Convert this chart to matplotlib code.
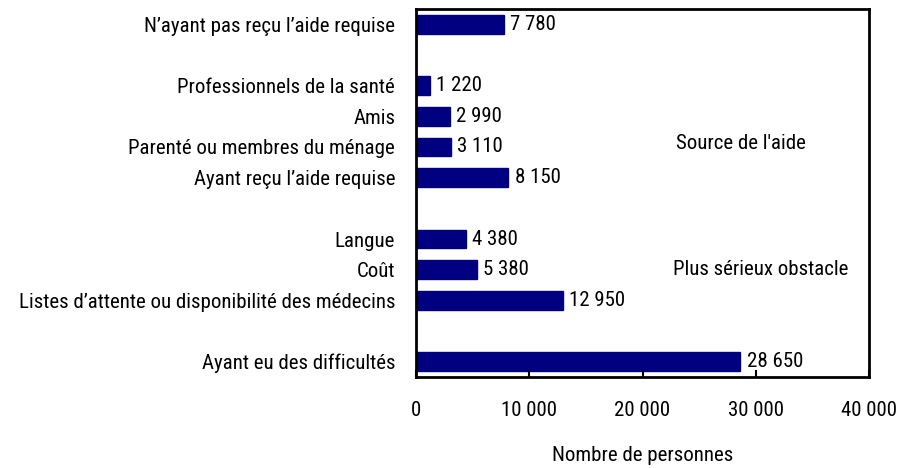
import matplotlib
matplotlib.use("Agg")
import matplotlib.pyplot as plt
from matplotlib import font_manager

categories = [
    "N\u2019ayant pas reçu l\u2019aide requise",
    "",
    "Professionnels de la santé",
    "Amis",
    "Parenté ou membres du ménage",
    "Ayant reçu l\u2019aide requise",
    "",
    "Langue",
    "Coût",
    "Listes d\u2019attente ou disponibilité des médecins",
    "",
    "Ayant eu des difficultés",
]
values = [7780, None, 1220, 2990, 3110, 8150, None, 4380, 5380, 12950, None, 28650]
xticks = [0, 10000, 20000, 30000, 40000]
xtick_labels = ["0", "10 000", "20 000", "30 000", "40 000"]

names = {f.name for f in font_manager.fontManager.ttflist}
fam = "Roboto Condensed" if "Roboto Condensed" in names else "DejaVu Sans"
plt.rcParams["font.family"] = [fam, "DejaVu Sans"]
FS = 15

fig = plt.figure(figsize=(8.99, 4.68), dpi=100)
ax = fig.add_axes([416/899, 1-377/468, (869-416)/899, (377-9)/468])

def fmt(v):
    return f"{v:,}".replace(",", " ")

ys = list(range(len(categories)))
for y, v in zip(ys, values):
    if v is None:
        continue
    ax.barh(y, v, height=0.6, color="#000080", edgecolor="#000080")
    ax.text(v + 550, y, fmt(v), va="center", ha="left", fontsize=FS)

ax.set_ylim(len(categories) - 0.5, -0.5)
ax.set_xlim(0, 40000)
ax.set_yticks(ys)
ax.set_yticklabels(categories, fontsize=FS)
ax.tick_params(axis="y", length=0, pad=15)
ax.set_xticks(xticks)
ax.set_xticklabels(xtick_labels, fontsize=FS)
ax.tick_params(axis="x", direction="in", length=5, width=1.5, pad=17)
for s in ax.spines.values():
    s.set_linewidth(2)
ax.set_xlabel("Nombre de personnes", fontsize=FS, labelpad=19)

ax.text(28700, 3.9, "Source de l'aide", fontsize=FS, ha="center", va="center")
ax.text(30400, 8.0, "Plus sérieux obstacle", fontsize=FS, ha="center", va="center")

fig.savefig("out.png", dpi=100)
